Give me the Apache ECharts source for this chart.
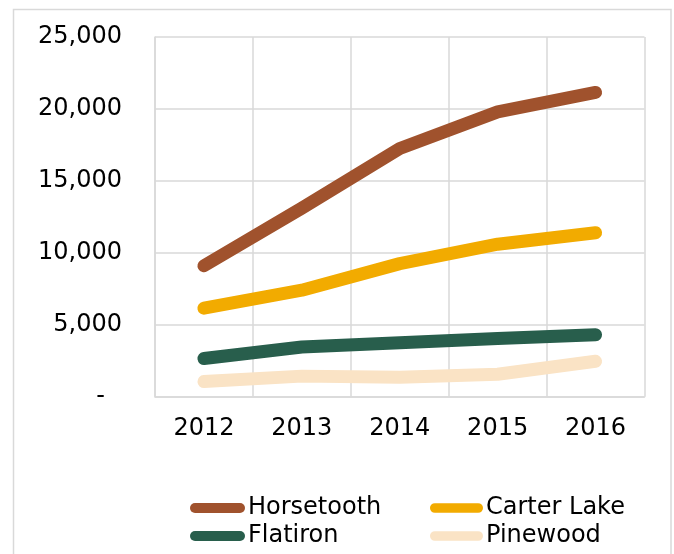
<!DOCTYPE html>
<html>
<head>
<meta charset="utf-8">
<script src="https://cdn.jsdelivr.net/npm/echarts@6/dist/echarts.min.js"></script>
<style>
html,body{margin:0;padding:0;background:#fff;}
#chart{width:674px;height:554px;}
</style>
</head>
<body>
<div id="chart"></div>
<script>
const years = ['2012', '2013', '2014', '2015', '2016'];
const horsetooth = [9100, 13100, 17250, 19800, 21150];
const carterLake = [6150, 7400, 9250, 10600, 11400];
const flatiron = [2650, 3450, 3750, 4050, 4300];
const pinewood = [1050, 1430, 1350, 1560, 2460];
const yTicks = [0, 5000, 10000, 15000, 20000, 25000];

const FONT = 'DejaVu Sans';
const legendIcon = 'path://M5,0 L50,0 A5,5 0 0 1 50,10 L5,10 A5,5 0 0 1 5,0 Z';

function mkSeries(name, data, color) {
  return {
    name: name, type: 'line', data: data, symbol: 'none', smooth: false,
    lineStyle: { color: color, width: 13, cap: 'round', join: 'round' },
    itemStyle: { color: color }
  };
}

const chart = echarts.init(document.getElementById('chart'), null, { renderer: 'canvas' });
chart.setOption({
  backgroundColor: '#ffffff',
  animation: false,
  textStyle: { fontFamily: FONT },
  graphic: [{
    type: 'rect', shape: { x: 13.5, y: 9.5, width: 657.5, height: 560 },
    style: { fill: 'none', stroke: '#d9d9d9', lineWidth: 1.5 }, silent: true, z: -1
  }],
  grid: { left: 155, top: 37, right: 29.5, bottom: 157.3, containLabel: false },
  xAxis: {
    type: 'category', data: years, boundaryGap: true,
    axisLine: { show: true, lineStyle: { color: '#d9d9d9', width: 1.5 } },
    axisTick: { show: false },
    splitLine: { show: true, lineStyle: { color: '#d9d9d9', width: 1.5 } },
    axisLabel: { color: '#000', fontSize: 24, fontFamily: FONT, margin: 20 }
  },
  yAxis: {
    type: 'value', min: 0, max: 25000, interval: 5000,
    axisLine: { show: true, lineStyle: { color: '#d9d9d9', width: 1.5 } },
    axisTick: { show: false },
    splitLine: { show: true, lineStyle: { color: '#d9d9d9', width: 1.5 } },
    axisLabel: {
      color: '#000', fontSize: 24, fontFamily: FONT, margin: 33,
      formatter: function (v) {
        if (v === 0) return '{d|-}';
        return v.toLocaleString('en-US');
      },
      rich: { d: { fontSize: 24, fontFamily: FONT, color: '#000', padding: [0, 17, 0, 0] } }
    }
  },
  legend: [{
    data: ['Horsetooth', 'Flatiron'], orient: 'vertical', left: 190, top: 496, padding: 0,
    icon: legendIcon, itemWidth: 55, itemHeight: 10, itemGap: 4,
    textStyle: { fontSize: 24, fontFamily: FONT, color: '#000', lineHeight: 24, padding: [0, 0, 0, -2] }
  }, {
    data: ['Carter Lake', 'Pinewood'], orient: 'vertical', left: 430, top: 496, padding: 0,
    icon: legendIcon, itemWidth: 53, itemHeight: 10, itemGap: 4,
    textStyle: { fontSize: 24, fontFamily: FONT, color: '#000', lineHeight: 24, padding: [0, 0, 0, -2] }
  }],
  series: [
    mkSeries('Horsetooth', horsetooth, '#A0522D'),
    mkSeries('Carter Lake', carterLake, '#F2AB00'),
    mkSeries('Flatiron', flatiron, '#285E4C'),
    mkSeries('Pinewood', pinewood, '#FAE3C5')
  ]
});
</script>
</body>
</html>
